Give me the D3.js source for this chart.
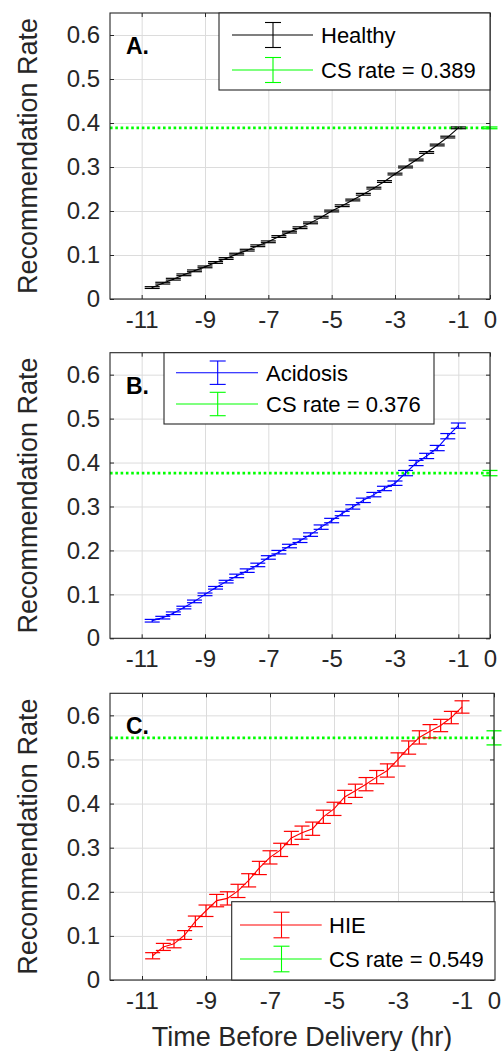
<!DOCTYPE html>
<html><head><meta charset="utf-8">
<script src="https://cdn.jsdelivr.net/npm/d3@7"></script>
<style>html,body{margin:0;padding:0;background:#fff;}svg{display:block;font-family:"Liberation Sans",Arial,sans-serif;}</style>
</head><body>
<script>
// ---- data ----
const timeHours = [-10.667,-10.333,-10,-9.667,-9.333,-9,-8.667,-8.333,-8,-7.667,-7.333,-7,-6.667,-6.333,-6,-5.667,-5.333,-5,-4.667,-4.333,-4,-3.667,-3.333,-3,-2.667,-2.333,-2,-1.667,-1.333,-1];
const healthy = [0.026,0.036,0.045,0.055,0.064,0.073,0.083,0.092,0.102,0.111,0.121,0.130,0.142,0.152,0.162,0.173,0.186,0.200,0.212,0.225,0.238,0.252,0.267,0.284,0.300,0.316,0.333,0.350,0.368,0.389];
const healthyErr = [0.002,0.002,0.002,0.002,0.002,0.002,0.002,0.002,0.002,0.002,0.002,0.002,0.002,0.002,0.002,0.002,0.002,0.002,0.002,0.002,0.002,0.002,0.002,0.002,0.002,0.002,0.002,0.002,0.002,0.002];
const acidosis = [0.040,0.047,0.057,0.070,0.084,0.100,0.115,0.129,0.142,0.154,0.167,0.184,0.196,0.210,0.222,0.236,0.253,0.268,0.284,0.299,0.314,0.327,0.341,0.353,0.376,0.399,0.415,0.433,0.460,0.484];
const acidosisErr = [0.003,0.003,0.003,0.003,0.003,0.003,0.003,0.003,0.004,0.004,0.004,0.004,0.004,0.004,0.004,0.004,0.005,0.005,0.005,0.005,0.005,0.005,0.005,0.005,0.006,0.006,0.006,0.006,0.006,0.006];
const hie = [0.055,0.075,0.082,0.102,0.133,0.157,0.180,0.185,0.202,0.226,0.254,0.278,0.295,0.322,0.334,0.343,0.370,0.388,0.415,0.429,0.444,0.460,0.475,0.500,0.527,0.550,0.564,0.577,0.595,0.619];
const hieErr = [0.007,0.008,0.009,0.010,0.012,0.013,0.014,0.015,0.015,0.015,0.015,0.015,0.015,0.015,0.015,0.015,0.015,0.015,0.015,0.015,0.015,0.015,0.015,0.015,0.015,0.015,0.015,0.014,0.014,0.014];
const csRates = [0.389, 0.376, 0.549];
const csErr = [0.002, 0.006, 0.016];
const groupNames = ["Healthy", "Acidosis", "HIE"];
const panelLetters = ["A.", "B.", "C."];
const xTicks = [-11,-9,-7,-5,-3,-1,0];
const yTicks = [0,0.1,0.2,0.3,0.4,0.5,0.6];
const xLabel = "Time Before Delivery (hr)";
const yLabel = "Recommendation Rate";

// ---- layout ----
const W = 503, H = 1051;
const colors = ["#000000", "#0000ff", "#ff0000"];
const green = "#00ff00";
const axisColor = "#262626";
const tickFont = 24, labelFont = 27, legendFont = 22;
const panels = [
  {left:110, right:490, top:13, bottom:299,
   legend:{x0:219, x1:490, y0:13, y1:90, rows:[35,70], lineX0:232, lineX1:313, ebX:273, ebH:12.5, textX:321}},
  {left:110, right:490, top:352.7, bottom:638.3,
   legend:{x0:164, x1:434, y0:352.7, y1:424, rows:[372.7,404], lineX0:176, lineX1:258, ebX:217.7, ebH:11.7, textX:266}},
  {left:110, right:494, top:693.3, bottom:980,
   legend:{x0:231.7, x1:495, y0:901.7, y1:980, rows:[925,959], lineX0:240, lineX1:321.7, ebX:281.5, ebH:12.8, textX:329}}
];
const seriesVals = [healthy, acidosis, hie];
const seriesErr = [healthyErr, acidosisErr, hieErr];

const svg = d3.select("body").append("svg").attr("width", W).attr("height", H);

panels.forEach((p, i) => {
  const x = d3.scaleLinear().domain([-12, 0]).range([p.left, p.right]);
  const y = d3.scaleLinear().domain([0, 0.65]).range([p.bottom, p.top]);
  const g = svg.append("g");
  const pw = p.right - p.left, ph = p.bottom - p.top;

  // grid
  g.append("g").attr("transform", `translate(0,${p.bottom})`)
    .call(d3.axisBottom(x).tickValues(xTicks).tickSize(-ph).tickFormat(""))
    .call(s => { s.select(".domain").remove(); s.selectAll("line").attr("stroke", "#dcdcdc").attr("stroke-width", 1); });
  g.append("g").attr("transform", `translate(${p.left},0)`)
    .call(d3.axisLeft(y).tickValues(yTicks).tickSize(-pw).tickFormat(""))
    .call(s => { s.select(".domain").remove(); s.selectAll("line").attr("stroke", "#dcdcdc").attr("stroke-width", 1); });

  // CS dotted line
  g.append("line").attr("x1", x(-12)).attr("x2", x(0)).attr("y1", y(csRates[i])).attr("y2", y(csRates[i]))
    .attr("stroke", green).attr("stroke-width", 2.6).attr("stroke-dasharray", "2.6,2.7");

  // series line
  const vals = seriesVals[i], errs = seriesErr[i], col = colors[i];
  const line = d3.line().x((d, k) => x(timeHours[k])).y(d => y(d));
  g.append("path").attr("d", line(vals)).attr("fill", "none").attr("stroke", col).attr("stroke-width", 1.1);
  const cap = 7.5;
  const eb = g.append("g").attr("stroke", col).attr("stroke-width", 1.2);
  vals.forEach((v, k) => {
    const cx = x(timeHours[k]);
    eb.append("line").attr("x1", cx).attr("x2", cx).attr("y1", y(v - errs[k])).attr("y2", y(v + errs[k]));
    eb.append("line").attr("x1", cx - cap).attr("x2", cx + cap).attr("y1", y(v - errs[k])).attr("y2", y(v - errs[k]));
    eb.append("line").attr("x1", cx - cap).attr("x2", cx + cap).attr("y1", y(v + errs[k])).attr("y2", y(v + errs[k]));
  });

  // CS errorbar at x = 0
  const ge = g.append("g").attr("stroke", green).attr("stroke-width", 1.3);
  const gx = x(0), lo = y(csRates[i] - csErr[i]), hi = y(csRates[i] + csErr[i]);
  ge.append("line").attr("x1", gx).attr("x2", gx).attr("y1", lo).attr("y2", hi);
  ge.append("line").attr("x1", gx - cap).attr("x2", gx + cap).attr("y1", lo).attr("y2", lo);
  ge.append("line").attr("x1", gx - cap).attr("x2", gx + cap).attr("y1", hi).attr("y2", hi);

  // axes with inward ticks
  const tl = 4;
  const ax = g.append("g").attr("transform", `translate(0,${p.bottom})`)
    .call(d3.axisBottom(x).tickValues(xTicks).tickSize(-tl).tickPadding(12).tickFormat(d => String(d)));
  const axT = g.append("g").attr("transform", `translate(0,${p.top})`)
    .call(d3.axisTop(x).tickValues(xTicks).tickSize(-tl).tickFormat(""));
  const ay = g.append("g").attr("transform", `translate(${p.left},0)`)
    .call(d3.axisLeft(y).tickValues(yTicks).tickSize(-tl).tickPadding(10).tickFormat(d => d === 0 ? "0" : d.toFixed(1)));
  const ayR = g.append("g").attr("transform", `translate(${p.right},0)`)
    .call(d3.axisRight(y).tickValues(yTicks).tickSize(-tl).tickFormat(""));
  [ax, axT, ay, ayR].forEach(a => {
    a.select(".domain").remove();
    a.selectAll("line").attr("stroke", axisColor);
    a.selectAll("text").attr("fill", axisColor).attr("font-size", tickFont).attr("font-family", '"Liberation Sans",Arial,sans-serif');
  });
  ax.selectAll("text").attr("dy", "0.71em");
  g.append("rect").attr("x", p.left).attr("y", p.top).attr("width", pw).attr("height", ph)
    .attr("fill", "none").attr("stroke", axisColor).attr("stroke-width", 1.1);

  // panel letter
  g.append("text").attr("x", p.left + 16).attr("y", p.top + 41).attr("font-size", 23).attr("font-weight", "bold")
    .attr("fill", "#000").text(panelLetters[i]);

  // y label
  g.append("text").attr("transform", `translate(37,${(p.top + p.bottom) / 2}) rotate(-90)`)
    .attr("text-anchor", "middle").attr("font-size", labelFont).attr("fill", axisColor).text(yLabel);

  // legend
  const L = p.legend;
  const lg = g.append("g");
  lg.append("rect").attr("x", L.x0).attr("y", L.y0).attr("width", L.x1 - L.x0).attr("height", L.y1 - L.y0)
    .attr("fill", "#fff").attr("stroke", axisColor).attr("stroke-width", 1.1);
  const entries = [{c: col, t: groupNames[i]}, {c: green, t: "CS rate = " + csRates[i].toFixed(3)}];
  entries.forEach((e, r) => {
    const ry = L.rows[r];
    const eg = lg.append("g").attr("stroke", e.c).attr("stroke-width", 1.1);
    eg.append("line").attr("x1", L.lineX0).attr("x2", L.lineX1).attr("y1", ry).attr("y2", ry);
    eg.append("line").attr("x1", L.ebX).attr("x2", L.ebX).attr("y1", ry - L.ebH).attr("y2", ry + L.ebH);
    eg.append("line").attr("x1", L.ebX - 8).attr("x2", L.ebX + 8).attr("y1", ry - L.ebH).attr("y2", ry - L.ebH);
    eg.append("line").attr("x1", L.ebX - 8).attr("x2", L.ebX + 8).attr("y1", ry + L.ebH).attr("y2", ry + L.ebH);
    lg.append("text").attr("x", L.textX).attr("y", ry + 8).attr("font-size", legendFont).attr("fill", "#000").text(e.t);
  });
});

// x label
svg.append("text").attr("x", (panels[2].left + panels[2].right) / 2).attr("y", 1046)
  .attr("text-anchor", "middle").attr("font-size", labelFont).attr("fill", axisColor).text(xLabel);
</script>
</body></html>
